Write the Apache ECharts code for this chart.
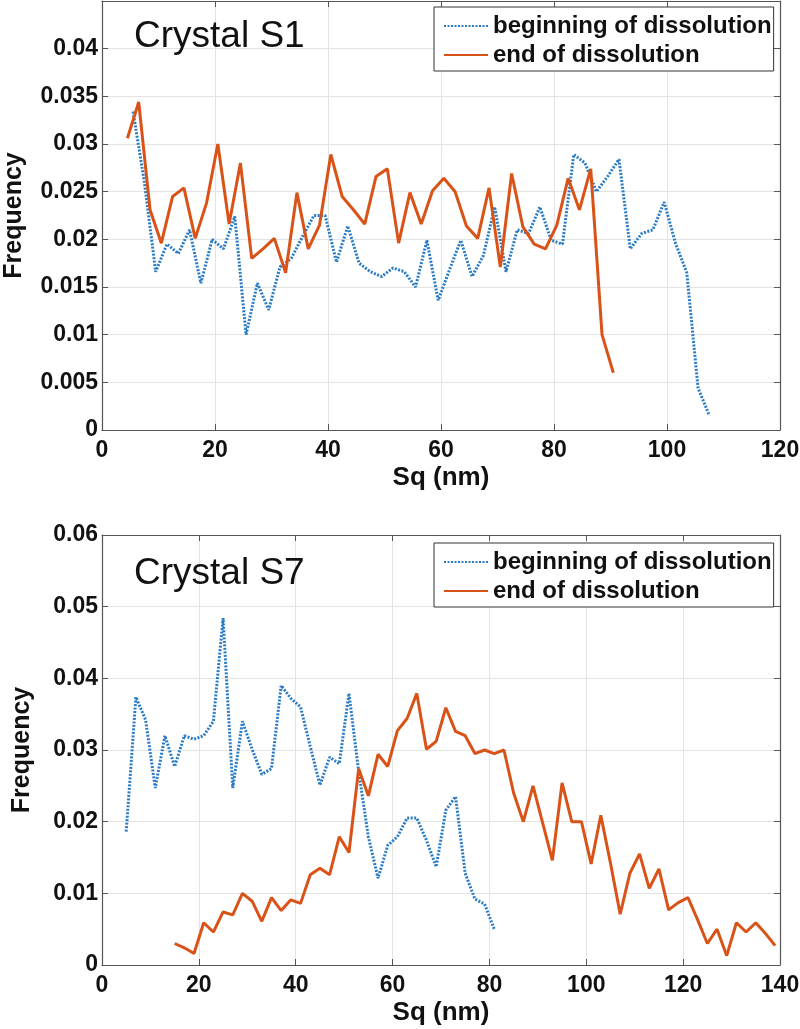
<!DOCTYPE html>
<html>
<head>
    <meta charset="UTF-8">
    <title>Sq frequency</title>
    <script src="https://cdn.jsdelivr.net/npm/echarts@6/dist/echarts.min.js"></script>
</head>
<style type="text/css">
    html, body {
        height: 100%;
        width: 100%;
        margin: 0;
        padding: 0;
        background: #fff;
    }
    #main {
        width: 800px;
        height: 1029px;
    }
</style>
<body>
    <div id="main"></div>
</body>
<script>
    // Crystal S1 - bin centres (nm) and frequencies
    var s1BeginX = [5.5,7.5,9.5,11.5,13.5,15.5,17.5,19.5,21.5,23.5,25.5,27.5,29.5,31.5,33.5,35.5,37.5,39.5,41.5,43.5,45.5,47.5,49.5,51.5,53.5,55.5,
        57.5,59.5,61.5,63.5,65.5,67.5,69.5,71.5,73.5,75.5,77.5,79.5,81.5,83.5,85.5,87.5,89.5,91.5,93.5,95.5,97.5,99.5,101.5,103.5,105.5,107.5];
    var s1BeginY = [0.0334,0.0260,0.0166,0.0195,0.0185,0.0210,0.0154,0.0200,0.0190,0.0224,0.0100,0.0154,0.0126,0.0171,0.0180,0.0203,0.0225,0.0225,0.0176,0.0214,0.0175,0.0166,0.0161,0.0170,0.0166,0.0150,
        0.0199,0.0136,0.0168,0.0199,0.0161,0.0183,0.0234,0.0166,0.0210,0.0206,0.0234,0.0199,0.0195,0.0289,0.0280,0.0250,0.0266,0.0284,0.0190,0.0206,0.0210,0.0239,0.0196,0.0165,0.0044,0.0015];
    var s1EndX = [4.5,6.5,8.5,10.5,12.5,14.5,16.5,18.5,20.5,22.5,24.5,26.5,28.5,30.5,32.5,34.5,36.5,38.5,40.5,42.5,44.5,46.5,
        48.5,50.5,52.5,54.5,56.5,58.5,60.5,62.5,64.5,66.5,68.5,70.5,72.5,74.5,76.5,78.5,80.5,82.5,84.5,86.5,88.5,90.5];
    var s1EndY = [0.0306,0.0344,0.0231,0.0196,0.0245,0.0254,0.0201,0.0238,0.0300,0.0216,0.0280,0.0180,0.0190,0.0201,0.0165,0.0249,0.0190,0.0215,0.0289,0.0245,0.0231,0.0216,
        0.0266,0.0274,0.0196,0.0249,0.0216,0.0251,0.0264,0.0250,0.0214,0.0201,0.0254,0.0171,0.0269,0.0213,0.0195,0.0190,0.0215,0.0264,0.0231,0.0274,0.0100,0.0060];

    // Crystal S7
    var s7BeginX = [5,7,9,11,13,15,17,19,21,23,25,27,29,31,33,35,37,39,41,43,45,47,49,51,53,55,57,59,61,63,65,67,69,71,73,75,77,79,81];
    var s7BeginY = [0.0186,0.0374,0.0342,0.0247,0.0320,0.0277,0.0320,0.0315,0.0320,0.0340,0.0484,0.0247,0.0340,0.0301,0.0266,0.0274,0.0390,0.0372,0.0360,0.0305,
        0.0251,0.0290,0.0281,0.0379,0.0270,0.0179,0.0121,0.0167,0.0179,0.0205,0.0205,0.0174,0.0137,0.0216,0.0235,0.0128,0.0092,0.0085,0.0050];
    var s7EndX = [15,17,19,21,23,25,27,29,31,33,35,37,39,41,43,45,47,49,51,53,55,57,59,61,63,65,67,69,71,73,75,77,79,81,83,85,87,89,91,93,95,97,99,
        101,103,105,107,109,111,113,115,117,119,121,123,125,127,129,131,133,135,137,139];
    var s7EndY = [0.0030,0.0024,0.0016,0.0059,0.0046,0.0074,0.0070,0.0100,0.0089,0.0061,0.0094,0.0076,0.0091,0.0086,0.0126,0.0135,0.0126,0.0179,0.0157,0.0274,0.0236,
        0.0294,0.0277,0.0327,0.0344,0.0379,0.0301,0.0312,0.0359,0.0326,0.0320,0.0295,0.0300,0.0295,0.0300,0.0240,0.0200,0.0250,0.0198,0.0146,0.0254,0.0200,0.0200,
        0.0141,0.0209,0.0142,0.0071,0.0128,0.0155,0.0107,0.0134,0.0077,0.0087,0.0094,0.0063,0.0030,0.0050,0.0013,0.0059,0.0046,0.0059,0.0044,0.0027];

    var seriesNames = ['beginning of dissolution', 'end of dissolution'];
    var titles = ['Crystal S1', 'Crystal S7'];
    var xMax = [120, 140];
    var yMax = [0.045, 0.06];
    var yStep = [0.005, 0.01];

    var FONT = '"Liberation Sans", Arial, sans-serif';
    var AXIS_COLOR = '#555';
    var BLUE = '#2a7bc6';
    var ORANGE = '#D95319';

    function pairs(xs, ys) {
        var out = [];
        for (var i = 0; i < xs.length; i++) out.push([xs[i], ys[i]]);
        return out;
    }

    var myChart = echarts.init(document.getElementById('main'));

    // outerBoundsMode none: keep the plot boxes where they are
    var grids = [
        { left: 102, right: 20, top: 1, height: 429, outerBoundsMode: 'none', containLabel: false },
        { left: 102, right: 20, top: 535, height: 430, outerBoundsMode: 'none', containLabel: false }
    ];
    var yNameGap = [75, 67];

    var xAxes = [], yAxes = [];
    for (var g = 0; g < 2; g++) {
        (function (g) {
            xAxes.push({
                type: 'value', gridIndex: g, min: 0, max: xMax[g], interval: 20,
                name: 'Sq (nm)', nameLocation: 'middle', nameGap: 35,
                nameTextStyle: { fontFamily: FONT, fontWeight: 'bold', fontSize: 26, color: '#111' },
                axisLine: { onZero: false, lineStyle: { color: AXIS_COLOR, width: 1.2 } },
                axisTick: { inside: true, length: 6, lineStyle: { color: AXIS_COLOR } },
                axisLabel: { margin: 9, fontFamily: FONT, fontWeight: 'bold', fontSize: 23, color: '#111' },
                splitLine: { show: true, lineStyle: { color: '#e3e3e3' } }
            });
            xAxes.push({
                type: 'value', gridIndex: g, position: 'top', min: 0, max: xMax[g], interval: 20,
                axisLine: { onZero: false, lineStyle: { color: AXIS_COLOR, width: 1.2 } },
                axisTick: { inside: true, length: 6, lineStyle: { color: AXIS_COLOR } },
                axisLabel: { show: false },
                splitLine: { show: false }
            });
            yAxes.push({
                type: 'value', gridIndex: g, min: 0, max: yMax[g], interval: yStep[g],
                name: 'Frequency', nameLocation: 'middle', nameGap: yNameGap[g],
                nameTextStyle: { fontFamily: FONT, fontWeight: 'bold', fontSize: 25, color: '#111' },
                axisLine: { onZero: false, lineStyle: { color: AXIS_COLOR, width: 1.2 } },
                axisTick: { inside: true, length: 6, lineStyle: { color: AXIS_COLOR } },
                axisLabel: {
                    margin: 4, fontFamily: FONT, fontWeight: 'bold', fontSize: 23, color: '#111',
                    formatter: function (v) {
                        if (g === 0 && v > 0.0449) return '';
                        return v === 0 ? '0' : String(+v.toFixed(3));
                    }
                },
                splitLine: { show: true, lineStyle: { color: '#e3e3e3' } }
            });
            yAxes.push({
                type: 'value', gridIndex: g, position: 'right', min: 0, max: yMax[g], interval: yStep[g],
                axisLine: { onZero: false, lineStyle: { color: AXIS_COLOR, width: 1.2 } },
                axisTick: { inside: true, length: 6, lineStyle: { color: AXIS_COLOR } },
                axisLabel: { show: false },
                splitLine: { show: false }
            });
        })(g);
    }

    function lineSeries(name, data, g, dotted) {
        return {
            name: name, type: 'line', xAxisIndex: g * 2, yAxisIndex: g * 2,
            data: data, symbol: 'none', showSymbol: false, silent: true,
            lineStyle: dotted
                ? { color: BLUE, width: 3, type: [2, 1.5] }
                : { color: ORANGE, width: 3, type: 'solid' },
            itemStyle: { color: dotted ? BLUE : ORANGE }
        };
    }

    var legendTops = [7, 543];
    var option = {
        animation: false,
        backgroundColor: '#fff',
        title: [0, 1].map(function (g) {
            return {
                text: titles[g], left: 129, top: g === 0 ? 13 : 550,
                textStyle: { fontFamily: FONT, fontWeight: 'normal', fontSize: 37, color: '#111' }
            };
        }),
        legend: [0, 1].map(function (g) {
            return {
                data: seriesNames, orient: 'vertical', left: 434, top: legendTops[g],
                backgroundColor: '#fff', borderColor: '#333', borderWidth: 1,
                padding: [7, 2, 4, 9], itemGap: 5, itemWidth: 44, itemHeight: 14,
                selectedMode: false,
                itemStyle: { opacity: 0 },
                textStyle: { fontFamily: FONT, fontWeight: 'bold', fontSize: 24, color: '#111' }
            };
        }),
        grid: grids,
        xAxis: xAxes,
        yAxis: yAxes,
        series: [
            lineSeries(seriesNames[0], pairs(s1BeginX, s1BeginY), 0, true),
            lineSeries(seriesNames[1], pairs(s1EndX, s1EndY), 0, false),
            lineSeries(seriesNames[0], pairs(s7BeginX, s7BeginY), 1, true),
            lineSeries(seriesNames[1], pairs(s7EndX, s7EndY), 1, false)
        ]
    };

    myChart.setOption(option);
    window.addEventListener('resize', function () {
        myChart.resize();
    });
</script>
</html>
